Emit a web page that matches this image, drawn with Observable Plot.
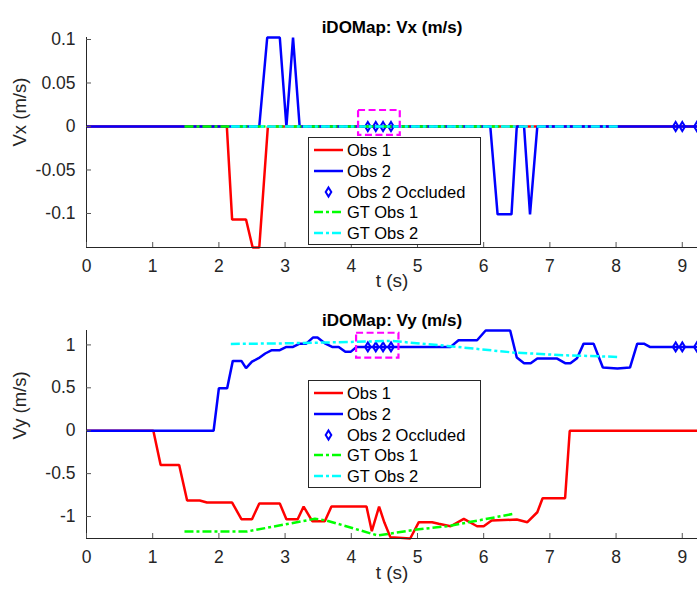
<!DOCTYPE html>
<html><head><meta charset="utf-8">
<script src="https://cdn.jsdelivr.net/npm/d3@7"></script>
<script src="https://cdn.jsdelivr.net/npm/@observablehq/plot@0.6"></script>
<style>
body{margin:0;background:#fff;font-family:"Liberation Sans",Arial,sans-serif;}
#wrap{position:relative;width:697px;height:592px;overflow:hidden;background:#fff}
.panel{position:absolute;left:0}
.legend{position:absolute;left:308px;width:173px;height:108px;border:1px solid #262626;background:#fff;box-sizing:border-box;color:#000}
.row{position:absolute;left:0;height:20px;width:170px}
.row svg{position:absolute;left:5px;top:0}
.row span{position:absolute;left:38px;top:0;line-height:20px;font-size:16.5px;white-space:nowrap}
</style></head>
<body><div id="wrap"></div>
<script>
// ---------- data ----------
const xTicks = [0,1,2,3,4,5,6,7,8,9];
const vxTicks = [-0.1,-0.05,0,0.05,0.1];
const vyTicks = [-1,-0.5,0,0.5,1];

// Vx panel
const vxObs1T = [0, 2.12, 2.2, 2.41, 2.51, 2.61, 2.74, 9.23];
const vxObs1  = [0, 0, -0.107, -0.107, -0.1391, -0.1391, 0, 0];
const vxObs2T = [0, 2.61, 2.73, 2.92, 3.02, 3.12, 3.22, 6.10, 6.21, 6.42, 6.50, 6.61, 6.70, 6.81, 9.23];
const vxObs2  = [0, 0, 0.1023, 0.1023, 0, 0.1023, 0, 0, -0.101, -0.101, 0, 0, -0.101, 0, 0];
const occT    = [4.25, 4.37, 4.48, 4.60, 8.90, 9.00, 9.22];
const vxOcc   = [0, 0, 0, 0, 0, 0, 0];
const gt1T    = [1.48, 2.43, 3.45, 3.62, 4.40, 4.95, 5.45, 6.45];
const gt1Vx   = [0, 0, 0, 0, 0, 0, 0, 0];
const gt2T    = [2.18, 3.0, 4.0, 4.6, 5.45, 6.45, 7.2, 8.04];
const gt2Vx   = [0, 0, 0, 0, 0, 0, 0, 0];
const vxBox   = [4.11, 4.74, -0.0103, 0.0184]; // x1, x2, y1, y2

// Vy panel
const vyObs1T = [0,1.01,1.12,1.40,1.52,1.71,1.82,2.20,2.34,2.50,2.61,2.92,3.02,3.19,3.28,3.41,3.60,3.70,4.23,4.31,4.42,4.50,4.59,4.89,5.02,5.22,5.32,5.50,5.70,5.90,6.00,6.12,6.50,6.66,6.81,6.89,7.23,7.30,9.23];
const vyObs1  = [0,0,-0.399,-0.399,-0.814,-0.814,-0.837,-0.837,-1.031,-1.031,-0.849,-0.849,-1.031,-1.031,-0.884,-1.054,-1.054,-0.884,-0.884,-1.171,-0.884,-1.07,-1.24,-1.256,-1.066,-1.066,-1.085,-1.113,-1.027,-1.113,-1.113,-1.047,-1.035,-1.066,-0.95,-0.787,-0.787,0,0];
const vyObs2T = [0,1.92,2.0,2.125,2.21,2.34,2.41,2.50,2.60,2.70,2.80,2.92,3.02,3.12,3.22,3.32,3.42,3.49,3.61,3.71,3.81,3.91,3.99,4.08,5.50,5.62,5.90,6.03,6.40,6.50,6.61,6.71,6.81,7.11,7.23,7.31,7.41,7.51,7.66,7.80,8.02,8.21,8.32,8.42,8.51,9.23];
const vyObs2  = [0,0,0.496,0.496,0.814,0.814,0.729,0.806,0.845,0.90,0.938,0.938,0.977,0.977,1.015,1.015,1.085,1.085,1.015,0.977,0.977,0.919,0.919,0.977,0.977,1.054,1.054,1.168,1.168,0.853,0.787,0.787,0.841,0.841,0.787,0.787,0.845,1.015,1.015,0.736,0.725,0.736,1.015,1.015,0.977,0.977];
const vyOcc   = [0.977, 0.977, 0.977, 0.977, 0.977, 0.977, 0.977];
const gt1Vy   = [-1.174,-1.174,-1.027,-1.045,-1.221,-1.155,-1.113,-0.969];
const gt2Vy   = [1.012, 1.018, 1.035, 1.047, 0.988, 0.911, 0.88, 0.860];
const vyBox   = [4.08, 4.72, 0.845, 1.136];

const legendLabels = ["Obs 1","Obs 2","Obs 2 Occluded","GT Obs 1","GT Obs 2"];
const colors = {obs1:"#ff0000", obs2:"#0000ff", gt1:"#00ff00", gt2:"#00ffff", box:"#ff00ff", axis:"#262626"};

// ---------- drawing ----------
const diamond = {draw(ctx, size){ const r = Math.sqrt(size/Math.PI); const w = r*0.62;
  ctx.moveTo(0,-r); ctx.lineTo(w,0); ctx.lineTo(0,r); ctx.lineTo(-w,0); ctx.closePath(); }};
const dashDot = "9,3,3,3";
const fmt = d => String(d);

function panel(o){
  return Plot.plot({
    width: 697, height: 296, marginLeft: 86, marginRight: 0, marginTop: o.mt, marginBottom: o.mb,
    style: {fontFamily: "'Liberation Sans', Arial, sans-serif", fontSize: "17.5px", color: colors.axis, background: "white", overflow: "visible"},
    x: {domain: [0, 9.23]},
    y: {domain: o.yDomain},
    marks: [
      Plot.line(o.r[0], {x: o.r[0], y: o.r[1], stroke: colors.obs1, strokeWidth: 2.5, strokeLinejoin: "miter", strokeLinecap: "butt"}),
      Plot.line(o.b[0], {x: o.b[0], y: o.b[1], stroke: colors.obs2, strokeWidth: 2.5, strokeLinejoin: "miter", strokeLinecap: "butt"}),
      Plot.dot(occT, {x: occT, y: o.occ, symbol: diamond, r: 4.5, stroke: colors.obs2, strokeWidth: 2, fill: "none"}),
      Plot.line(gt1T, {x: gt1T, y: o.g1, stroke: colors.gt1, strokeWidth: 2.5, strokeDasharray: dashDot, strokeLinecap: "butt"}),
      Plot.line(gt2T, {x: gt2T, y: o.g2, stroke: colors.gt2, strokeWidth: 2.5, strokeDasharray: dashDot, strokeLinecap: "butt"}),
      Plot.rect([0], {x1: [o.box[0]], x2: [o.box[1]], y1: [o.box[2]], y2: [o.box[3]], fill: "none", stroke: colors.box, strokeWidth: 2.2, strokeDasharray: "7,3.5"}),
      Plot.ruleX([0], {stroke: colors.axis, strokeWidth: 1}),
      Plot.ruleY([o.yDomain[0]], {stroke: colors.axis, strokeWidth: 1}),
      Plot.axisX({ticks: xTicks, tickSize: -5, tickPadding: 17, tickFormat: fmt, label: null, stroke: "#555"}),
      Plot.axisY({ticks: o.yTicks, tickSize: -5, tickPadding: 16, tickFormat: fmt, label: null, stroke: "#555"}),
      Plot.text([o.title], {frameAnchor: "top", dy: o.titleDy, fontWeight: "bold", fontSize: 17, fill: "#000"}),
      Plot.text([o.ylabel], {frameAnchor: "left", dx: -66, dy: o.ylDy, rotate: -90, fontSize: 18.5, fill: colors.axis}),
      Plot.text(["t (s)"], {frameAnchor: "bottom", dy: o.xlDy, fontSize: 19, fill: colors.axis})
    ]
  });
}

function legend(top){
  const div = document.createElement("div");
  div.className = "legend"; div.style.top = top + "px";
  const rowH = 20.75;
  legendLabels.forEach((lab, i) => {
    const row = document.createElement("div");
    row.className = "row"; row.style.top = (12 + i*rowH - 10) + "px";
    let sample;
    if (i === 0) sample = `<line x1="0" y1="10" x2="29" y2="10" stroke="${colors.obs1}" stroke-width="2.5"/>`;
    else if (i === 1) sample = `<line x1="0" y1="10" x2="29" y2="10" stroke="${colors.obs2}" stroke-width="2.5"/>`;
    else if (i === 2) sample = `<path d="M14.5,5.5 L17.3,10 L14.5,14.5 L11.7,10 Z" fill="none" stroke="${colors.obs2}" stroke-width="2"/>`;
    else if (i === 3) sample = `<line x1="0" y1="10" x2="29" y2="10" stroke="${colors.gt1}" stroke-width="2.5" stroke-dasharray="${dashDot}"/>`;
    else sample = `<line x1="0" y1="10" x2="29" y2="10" stroke="${colors.gt2}" stroke-width="2.5" stroke-dasharray="${dashDot}"/>`;
    row.innerHTML = `<svg width="30" height="20">${sample}</svg><span>${lab}</span>`;
    div.appendChild(row);
  });
  return div;
}

const wrap = document.getElementById("wrap");
const p1 = panel({yDomain: [-0.1391, 0.1023], yTicks: vxTicks, mt: 37, mb: 49,
  r: [vxObs1T, vxObs1], b: [vxObs2T, vxObs2], occ: vxOcc, g1: gt1Vx, g2: gt2Vx, box: vxBox,
  title: "iDOMap: Vx (m/s)", titleDy: -17, ylabel: "Vx (m/s)", ylDy: 4, xlDy: 39});
const p2 = panel({yDomain: [-1.256, 1.168], yTicks: vyTicks, mt: 34, mb: 54,
  r: [vyObs1T, vyObs1], b: [vyObs2T, vyObs2], occ: vyOcc, g1: gt1Vy, g2: gt2Vy, box: vyBox,
  title: "iDOMap: Vy (m/s)", titleDy: -17, ylabel: "Vy (m/s)", ylDy: 5, xlDy: 40});
const d1 = document.createElement("div"); d1.className = "panel"; d1.style.top = "0px"; d1.appendChild(p1);
const d2 = document.createElement("div"); d2.className = "panel"; d2.style.top = "296px"; d2.appendChild(p2);
wrap.appendChild(d1); wrap.appendChild(d2);
wrap.appendChild(legend(137));
wrap.appendChild(legend(380));
</script></body></html>
